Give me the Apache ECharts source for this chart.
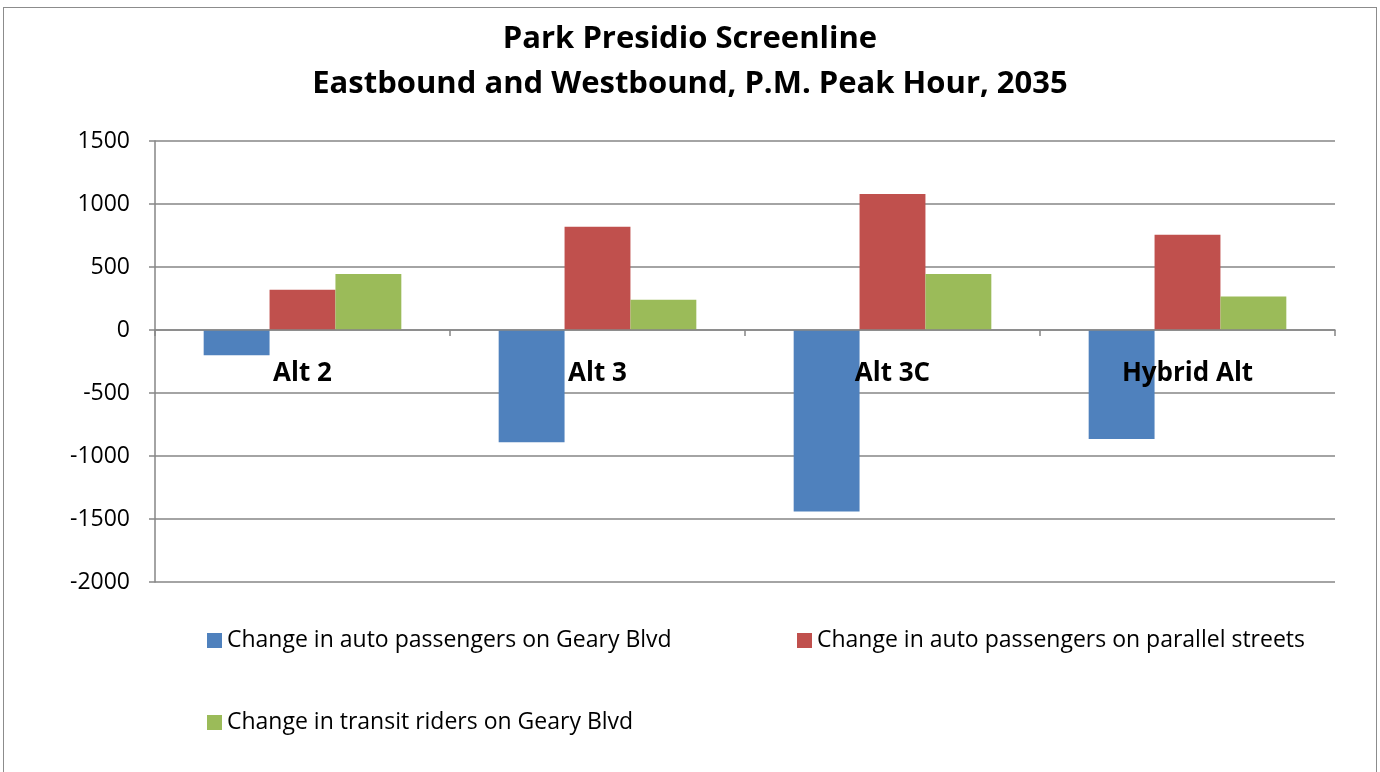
<!DOCTYPE html>
<html>
<head>
    <meta charset="utf-8" />
    <style>
        html, body { margin: 0; padding: 0; background: #fff; }
        #frame {
            position: absolute; left: 3px; top: 7px; width: 1374px; height: 780px;
            border: 1px solid #8c8c8c; box-sizing: border-box;
        }
        #chart { position: absolute; left: 0; top: 0; width: 1380px; height: 772px; }
    </style>
    <script src="https://cdn.jsdelivr.net/npm/echarts@6/dist/echarts.min.js"></script>
</head>
<body>
    <div id="frame"></div>
    <div id="chart"></div>
    <script type="text/javascript">
        // data
        var categories = ['Alt 2', 'Alt 3', 'Alt 3C', 'Hybrid Alt'];
        var seriesNames = [
            'Change in auto passengers on Geary Blvd',
            'Change in auto passengers on parallel streets',
            'Change in transit riders on Geary Blvd'
        ];
        var autoGeary = [-200, -890, -1440, -865];
        var autoParallel = [320, 820, 1080, 755];
        var transitGeary = [445, 240, 445, 265];
        var colors = ['#4f81bd', '#c0504d', '#9bbb59'];

        var font = '"Open Sans", Lato, sans-serif';

        function legendFor(name, left, top) {
            return {
                data: [name],
                left: left,
                top: top,
                icon: 'rect',
                itemWidth: 15,
                itemHeight: 15,
                itemGap: 0,
                textStyle: { color: '#000', fontSize: 23, fontFamily: font },
                selectedMode: false
            };
        }

        var option = {
            animation: false,
            color: colors,
            title: {
                text: 'Park Presidio Screenline\nEastbound and Westbound, P.M. Peak Hour, 2035',
                left: 'center',
                top: 12,
                textStyle: {
                    color: '#000', fontSize: 31, fontWeight: 'bold',
                    fontFamily: font, lineHeight: 45
                }
            },
            legend: [
                legendFor(seriesNames[0], 202, 624),
                legendFor(seriesNames[1], 792, 624),
                legendFor(seriesNames[2], 202, 706)
            ],
            grid: { left: 155, right: 45, top: 141, bottom: 190, containLabel: false },
            xAxis: {
                type: 'category',
                data: categories,
                z: 5,
                axisLine: { onZero: true, lineStyle: { color: '#868686', width: 1.5 } },
                axisTick: { show: true, length: 6, lineStyle: { color: '#868686', width: 1.5 } },
                // labels sit just under the zero line, as in the original
                axisLabel: {
                    color: '#000', fontSize: 26, fontWeight: 'bold', fontFamily: font, margin: -221
                }
            },
            yAxis: {
                type: 'value',
                min: -2000,
                max: 1500,
                interval: 500,
                axisLine: { show: true, lineStyle: { color: '#868686', width: 1.5 } },
                axisTick: { show: true, length: 6, lineStyle: { color: '#868686', width: 1.5 } },
                splitLine: { lineStyle: { color: '#868686', width: 1.5 } },
                axisLabel: {
                    color: '#000', fontSize: 23, fontFamily: font, margin: 25,
                    formatter: function (v) { return String(v); }
                }
            },
            series: [
                { name: seriesNames[0], type: 'bar', data: autoGeary, barGap: '0%', barCategoryGap: '33%' },
                { name: seriesNames[1], type: 'bar', data: autoParallel, barGap: '0%', barCategoryGap: '33%' },
                { name: seriesNames[2], type: 'bar', data: transitGeary, barGap: '0%', barCategoryGap: '33%' }
            ]
        };

        var myChart = echarts.init(document.getElementById('chart'));
        myChart.setOption(option);
    </script>
</body>
</html>
